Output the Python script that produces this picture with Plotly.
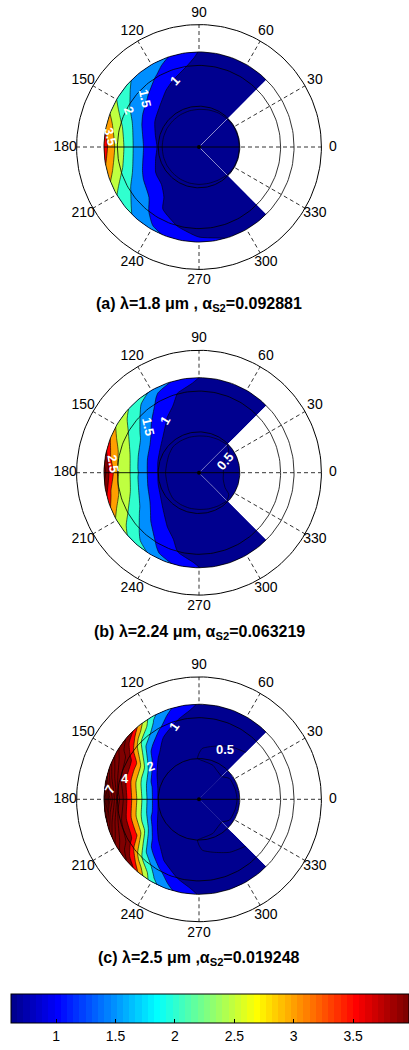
import math
import plotly.graph_objects as go

# ---------------- data ----------------
R_SECTOR = [0.0, 0.5, 0.9, 1.0, 1.25, 1.5, 1.75, 2.0, 2.2, 2.33]
TH_SECTOR = [45, 60, 75, 90, 105, 120, 135, 150, 165, 180, 195, 210, 225, 240, 255, 270, 285, 300, 315]
R_CORE = [0.0, 0.5, 0.9, 1.0]
TH_CORE = [-45, -30, -15, 0, 15, 30, 45]

Z_A_SECTOR = [
    [0.44, 0.46, 0.47, 0.51, 0.56, 0.59, 0.62, 0.64, 0.66, 0.67],
    [0.44, 0.46, 0.47, 0.52, 0.58, 0.62, 0.66, 0.69, 0.71, 0.72],
    [0.44, 0.46, 0.475, 0.54, 0.60, 0.65, 0.70, 0.75, 0.78, 0.80],
    [0.44, 0.46, 0.48, 0.57, 0.63, 0.70, 0.78, 0.86, 0.93, 0.98],
    [0.44, 0.46, 0.48, 0.60, 0.70, 0.80, 0.92, 1.10, 1.28, 1.42],
    [0.44, 0.46, 0.48, 0.65, 0.78, 0.92, 1.10, 1.45, 1.62, 1.72],
    [0.44, 0.46, 0.485, 0.70, 0.88, 1.12, 1.48, 1.70, 1.85, 1.98],
    [0.44, 0.46, 0.485, 0.75, 1.00, 1.35, 1.75, 2.05, 2.30, 2.50],
    [0.44, 0.46, 0.49, 0.85, 1.20, 1.60, 2.15, 2.60, 3.00, 3.30],
    [0.44, 0.46, 0.49, 0.96, 1.30, 1.75, 2.30, 2.85, 3.30, 3.90],
    [0.44, 0.46, 0.49, 0.86, 1.21, 1.62, 2.15, 2.62, 3.02, 3.35],
    [0.44, 0.46, 0.485, 0.78, 1.02, 1.38, 1.78, 2.08, 2.32, 2.52],
    [0.44, 0.46, 0.485, 0.75, 0.95, 1.20, 1.52, 1.72, 1.88, 2.00],
    [0.44, 0.46, 0.48, 0.66, 0.80, 0.90, 0.98, 1.25, 1.45, 1.60],
    [0.44, 0.46, 0.48, 0.62, 0.72, 0.82, 0.92, 0.98, 1.20, 1.38],
    [0.44, 0.46, 0.48, 0.60, 0.68, 0.76, 0.84, 0.92, 0.99, 1.15],
    [0.44, 0.46, 0.48, 0.57, 0.63, 0.70, 0.78, 0.86, 0.93, 1.01],
    [0.44, 0.46, 0.47, 0.55, 0.60, 0.65, 0.70, 0.75, 0.78, 0.80],
    [0.44, 0.46, 0.47, 0.51, 0.56, 0.59, 0.62, 0.64, 0.66, 0.67],
]
Z_A_CORE = [
    [0.44, 0.46, 0.47, 0.51],
    [0.44, 0.46, 0.47, 0.505],
    [0.44, 0.46, 0.47, 0.505],
    [0.44, 0.46, 0.47, 0.505],
    [0.44, 0.46, 0.47, 0.505],
    [0.44, 0.46, 0.47, 0.505],
    [0.44, 0.46, 0.47, 0.51],
]

Z_B_SECTOR = [
    [0.44, 0.46, 0.47, 0.51, 0.55, 0.58, 0.62, 0.65, 0.67, 0.69],
    [0.44, 0.46, 0.48, 0.53, 0.57, 0.61, 0.65, 0.69, 0.72, 0.74],
    [0.44, 0.46, 0.49, 0.55, 0.60, 0.65, 0.70, 0.75, 0.80, 0.83],
    [0.44, 0.46, 0.50, 0.58, 0.64, 0.70, 0.78, 0.86, 0.94, 1.00],
    [0.44, 0.46, 0.50, 0.62, 0.70, 0.78, 0.88, 0.98, 1.15, 1.42],
    [0.44, 0.46, 0.50, 0.70, 0.82, 0.95, 1.15, 1.40, 1.58, 1.92],
    [0.44, 0.46, 0.50, 0.78, 1.00, 1.30, 1.62, 1.95, 2.20, 2.40],
    [0.44, 0.46, 0.505, 0.85, 1.20, 1.75, 2.15, 2.50, 2.75, 2.92],
    [0.44, 0.46, 0.51, 0.92, 1.38, 1.90, 2.50, 2.90, 3.30, 3.90],
    [0.44, 0.46, 0.51, 0.98, 1.46, 2.03, 2.65, 3.05, 3.95, 4.80],
    [0.44, 0.46, 0.51, 0.93, 1.40, 1.92, 2.52, 2.92, 3.35, 3.95],
    [0.44, 0.46, 0.505, 0.86, 1.22, 1.72, 2.12, 2.48, 2.72, 2.90],
    [0.44, 0.46, 0.50, 0.78, 1.00, 1.28, 1.60, 1.92, 2.15, 2.35],
    [0.44, 0.46, 0.50, 0.70, 0.82, 0.96, 1.18, 1.42, 1.60, 1.90],
    [0.44, 0.46, 0.50, 0.62, 0.70, 0.78, 0.88, 0.99, 1.18, 1.45],
    [0.44, 0.46, 0.50, 0.58, 0.64, 0.70, 0.78, 0.86, 0.94, 1.01],
    [0.44, 0.46, 0.49, 0.55, 0.60, 0.65, 0.70, 0.75, 0.80, 0.83],
    [0.44, 0.46, 0.48, 0.53, 0.57, 0.61, 0.65, 0.69, 0.72, 0.74],
    [0.44, 0.46, 0.47, 0.51, 0.55, 0.58, 0.62, 0.65, 0.67, 0.69],
]
Z_B_CORE = [
    [0.44, 0.46, 0.47, 0.51],
    [0.44, 0.47, 0.52, 0.55],
    [0.44, 0.48, 0.55, 0.57],
    [0.44, 0.48, 0.56, 0.58],
    [0.44, 0.48, 0.55, 0.57],
    [0.44, 0.47, 0.52, 0.55],
    [0.44, 0.46, 0.47, 0.51],
]

Z_C_SECTOR = [
    [0.62, 0.55, 0.48, 0.40, 0.42, 0.47, 0.53, 0.57, 0.60, 0.62],
    [0.62, 0.56, 0.49, 0.42, 0.44, 0.50, 0.56, 0.60, 0.63, 0.65],
    [0.62, 0.58, 0.51, 0.45, 0.47, 0.55, 0.62, 0.68, 0.73, 0.76],
    [0.62, 0.60, 0.54, 0.49, 0.51, 0.58, 0.68, 0.78, 0.88, 0.95],
    [0.62, 0.62, 0.60, 0.56, 0.60, 0.68, 0.80, 0.98, 1.20, 1.42],
    [0.62, 0.63, 0.63, 0.60, 0.68, 0.80, 1.00, 1.60, 1.95, 2.15],
    [0.62, 0.64, 0.66, 0.65, 0.80, 1.10, 1.72, 2.50, 3.45, 4.10],
    [0.62, 0.64, 0.68, 0.70, 1.10, 2.30, 3.45, 4.30, 4.80, 5.20],
    [0.62, 0.65, 0.72, 0.85, 1.70, 2.60, 3.60, 4.60, 5.90, 7.00],
    [0.62, 0.65, 0.75, 0.98, 1.90, 2.90, 3.90, 5.30, 7.20, 9.40],
    [0.62, 0.65, 0.72, 0.86, 1.72, 2.62, 3.62, 4.65, 5.95, 7.10],
    [0.62, 0.64, 0.68, 0.71, 1.12, 2.32, 3.48, 4.32, 4.85, 5.25],
    [0.62, 0.64, 0.66, 0.65, 0.80, 1.12, 1.75, 2.55, 3.50, 4.15],
    [0.62, 0.63, 0.63, 0.60, 0.68, 0.80, 1.02, 1.62, 1.98, 2.18],
    [0.62, 0.62, 0.60, 0.56, 0.60, 0.68, 0.80, 0.98, 1.22, 1.45],
    [0.62, 0.60, 0.54, 0.49, 0.51, 0.58, 0.68, 0.78, 0.88, 0.96],
    [0.62, 0.58, 0.51, 0.45, 0.47, 0.55, 0.62, 0.68, 0.73, 0.76],
    [0.62, 0.56, 0.49, 0.42, 0.44, 0.50, 0.56, 0.60, 0.63, 0.65],
    [0.62, 0.55, 0.48, 0.40, 0.42, 0.47, 0.53, 0.57, 0.60, 0.62],
]
Z_C_CORE = [
    [0.62, 0.55, 0.48, 0.40],
    [0.62, 0.56, 0.51, 0.42],
    [0.62, 0.57, 0.52, 0.43],
    [0.62, 0.57, 0.53, 0.44],
    [0.62, 0.57, 0.52, 0.43],
    [0.62, 0.56, 0.51, 0.42],
    [0.62, 0.55, 0.48, 0.40],
]

LEVEL_START, LEVEL_END, LEVEL_STEP = 0.5, 9.5, 0.5
CLIM = (0.62, 3.97)
ANGLE_TICKS = [0, 30, 60, 90, 120, 150, 180, 210, 240, 270, 300, 330]
GRID_RADII = [1.0, 2.0, 3.0]
DATA_EDGE = 2.33
CORE_EDGE = 1.0
CBAR_TICKS = [1, 1.5, 2, 2.5, 3, 3.5]
CBAR_TICKTEXT = ["1", "1.5", "2", "2.5", "3", "3.5"]

TITLES = [
    "<b>(a) λ=1.8 μm , α<sub>S2</sub>=0.092881</b>",
    "<b>(b) λ=2.24 μm, α<sub>S2</sub>=0.063219</b>",
    "<b>(c) λ=2.5 μm ,α<sub>S2</sub>=0.019248</b>",
]
# contour labels: text, radius, angle (deg)
LABEL_TEXT_A = ["1", "1.5", "2", "3.5"]
LABEL_R_A = [1.74, 1.78, 1.93, 2.18]
LABEL_T_A = [110, 138, 152, 173]
LABEL_TEXT_B = ["1", "1.5", "2.5", "0.5"]
LABEL_R_B = [1.54, 1.68, 2.12, 0.69]
LABEL_T_B = [123, 138, 174, 24]
LABEL_TEXT_C = ["1", "0.5", "2", "4", "7"]
LABEL_R_C = [1.9, 1.37, 1.44, 1.89, 2.19]
LABEL_T_C = [109, 62, 146, 164, 174]

# ---------------- styling / layout ----------------
LABEL_ROT_A = [-47, 78, 70, 75]
LABEL_ROT_B = [-60, 78, 80, -50]
LABEL_ROT_C = [-55, 0, -20, 0, -60]

W, H = 409, 1050
PX = 40.8          # pixels per radial unit
CX = 199.0
CYS = [147.0, 472.7, 799.3]
HALF = 140.0
TITLE_Y = [304, 632, 958]
TICK_R = 3.28
FONT = "Liberation Sans, Arial, Helvetica, sans-serif"


def jet64():
    n = 16
    u = [k / n for k in range(1, n + 1)] + [1.0] * (n - 1) + [k / n for k in range(n, 0, -1)]
    R = [0.0] * 64
    G = [0.0] * 64
    B = [0.0] * 64
    for k, v in enumerate(u):
        gi, ri, bi = 8 + k, 24 + k, k - 8
        if 0 <= gi < 64:
            G[gi] = v
        if 0 <= ri < 64:
            R[ri] = v
        if 0 <= bi < 64:
            B[bi] = v
    return ["rgb(%d,%d,%d)" % (round(255 * r), round(255 * g), round(255 * b)) for r, g, b in zip(R, G, B)]


JET = jet64()


def jet_index(v):
    i = int(math.floor((v - CLIM[0]) / (CLIM[1] - CLIM[0]) * 64))
    return min(63, max(0, i))


nc = int(math.floor((LEVEL_END - LEVEL_START) / LEVEL_STEP + 1e-9)) + 1
band_colors = [JET[jet_index(LEVEL_START - LEVEL_STEP)]]
for k in range(nc):
    band_colors.append(JET[jet_index(LEVEL_START + k * LEVEL_STEP)])
BAND_CS = [[j / nc, c] for j, c in enumerate(band_colors)]

JET_CS = []
for i, c in enumerate(JET):
    JET_CS.append([i / 64, c])
    JET_CS.append([(i + 1) / 64, c])

fig = go.Figure()

hide_axis = dict(showgrid=False, showline=False, showticklabels="none", startline=False,
                 endline=False, minorgridcount=0, gridcolor="rgba(0,0,0,0)",
                 linecolor="rgba(0,0,0,0)", tickmode="array", tickvals=[])

panels = [
    (Z_A_SECTOR, Z_A_CORE, LABEL_TEXT_A, LABEL_R_A, LABEL_T_A, LABEL_ROT_A),
    (Z_B_SECTOR, Z_B_CORE, LABEL_TEXT_B, LABEL_R_B, LABEL_T_B, LABEL_ROT_B),
    (Z_C_SECTOR, Z_C_CORE, LABEL_TEXT_C, LABEL_R_C, LABEL_T_C, LABEL_ROT_C),
]

annotations = []
shapes = []
layout_axes = {}


def pol(r, t):
    return r * math.cos(math.radians(t)), r * math.sin(math.radians(t))


for pi, (zs, zc, ltxt, lr, lt, lrot) in enumerate(panels):
    n = pi + 1
    xa = "x" if n == 1 else "x%d" % n
    ya = "y" if n == 1 else "y%d" % n
    cy = CYS[pi]
    layout_axes["xaxis" if n == 1 else "xaxis%d" % n] = dict(
        domain=[0, 1], range=[-CX / PX, (W - CX) / PX], visible=False, anchor=ya, fixedrange=True)
    layout_axes["yaxis" if n == 1 else "yaxis%d" % n] = dict(
        domain=[1 - (cy + HALF) / H, 1 - (cy - HALF) / H], range=[-HALF / PX, HALF / PX],
        visible=False, anchor=xa, fixedrange=True)

    # dashed spokes under the data
    for ang in ANGLE_TICKS:
        x1, y1 = pol(GRID_RADII[-1], ang)
        shapes.append(dict(type="line", xref=xa, yref=ya, x0=0, y0=0, x1=x1, y1=y1, layer="below",
                           line=dict(color="black", width=0.8, dash="4px,3px")))

    # polar contour fields (sector + core) via carpets
    for tag, RR, TT, Z in (("s", R_SECTOR, TH_SECTOR, zs), ("c", R_CORE, TH_CORE, zc)):
        a, b, xs, ys, zz = [], [], [], [], []
        for j, t in enumerate(TT):
            for i, r in enumerate(RR):
                a.append(r)
                b.append(t)
                px, py = pol(r, t)
                xs.append(px)
                ys.append(py)
                zz.append(Z[j][i])
        cid = "carpet%d%s" % (n, tag)
        fig.add_trace(go.Carpet(a=a, b=b, x=xs, y=ys, carpet=cid, xaxis=xa, yaxis=ya,
                                aaxis=dict(hide_axis, smoothing=0), baxis=dict(hide_axis, smoothing=1)))
        fig.add_trace(go.Contourcarpet(
            a=a, b=b, z=zz, carpet=cid, xaxis=xa, yaxis=ya, autocontour=False,
            contours=dict(start=LEVEL_START, end=LEVEL_END, size=LEVEL_STEP, coloring="fill",
                          showlines=True, showlabels=False),
            line=dict(color="black", width=0.6, smoothing=0.6),
            colorscale=BAND_CS, showscale=False))

    # solid axis segment inside the data
    fig.add_trace(go.Scatter(x=[-DATA_EDGE, CORE_EDGE], y=[0, 0], mode="lines", xaxis=xa, yaxis=ya,
                             line=dict(color="black", width=0.9), hoverinfo="skip", showlegend=False))
    # grid circles and data edge circle
    ts = [k * 2 for k in range(181)]
    for rr, lw in ((GRID_RADII[0], 0.8), (GRID_RADII[1], 0.8), (DATA_EDGE, 0.8), (GRID_RADII[2], 1.0)):
        cx_, cy_ = zip(*[pol(rr, t) for t in ts])
        fig.add_trace(go.Scatter(x=list(cx_), y=list(cy_), mode="lines", xaxis=xa, yaxis=ya,
                                 line=dict(color="black", width=lw), hoverinfo="skip", showlegend=False))
    # centre marker
    fig.add_trace(go.Scatter(x=[0], y=[0], mode="markers", xaxis=xa, yaxis=ya,
                             marker=dict(symbol="circle", size=4, color="black"),
                             hoverinfo="skip", showlegend=False))
    # angle labels
    lx, ly = zip(*[pol(TICK_R, t) for t in ANGLE_TICKS])
    fig.add_trace(go.Scatter(x=list(lx), y=list(ly), mode="text", text=[str(t) for t in ANGLE_TICKS],
                             textposition="middle center", xaxis=xa, yaxis=ya, cliponaxis=False,
                             textfont=dict(family=FONT, size=14, color="black"),
                             hoverinfo="skip", showlegend=False))
    # contour labels
    for txt, r, t, rot in zip(ltxt, lr, lt, lrot):
        px, py = pol(r, t)
        annotations.append(dict(x=px, y=py, xref=xa, yref=ya, text="<b>%s</b>" % txt, showarrow=False,
                                textangle=rot, font=dict(family=FONT, size=13, color="white")))
    # title
    annotations.append(dict(x=CX / W, y=1 - TITLE_Y[pi] / H, xref="paper", yref="paper", text=TITLES[pi],
                            showarrow=False, xanchor="center", yanchor="middle",
                            font=dict(family=FONT, size=16, color="black")))

# colorbar (shared)
fig.add_trace(go.Scatter(
    x=[None], y=[None], mode="markers", xaxis="x3", yaxis="y3", showlegend=False, hoverinfo="skip",
    marker=dict(color=[1.0], colorscale=JET_CS, cmin=CLIM[0], cmax=CLIM[1], showscale=True,
                colorbar=dict(orientation="h", x=11 / W, xanchor="left", y=1 - 994 / H, yanchor="top",
                              len=398, lenmode="pixels", thickness=29, thicknessmode="pixels",
                              xpad=0, ypad=0, outlinewidth=1, outlinecolor="black",
                              tickvals=CBAR_TICKS, ticktext=CBAR_TICKTEXT, ticks="inside", ticklen=4,
                              tickcolor="black",
                              tickfont=dict(family=FONT, size=14, color="black")))))

fig.update_layout(width=W, height=H, margin=dict(l=0, r=0, t=0, b=0, autoexpand=False),
                  paper_bgcolor="white", plot_bgcolor="white", showlegend=False,
                  annotations=annotations, shapes=shapes, **layout_axes)

fig.write_html("out.html", config={"displayModeBar": False},
               post_script="document.body.style.margin='0px';")
